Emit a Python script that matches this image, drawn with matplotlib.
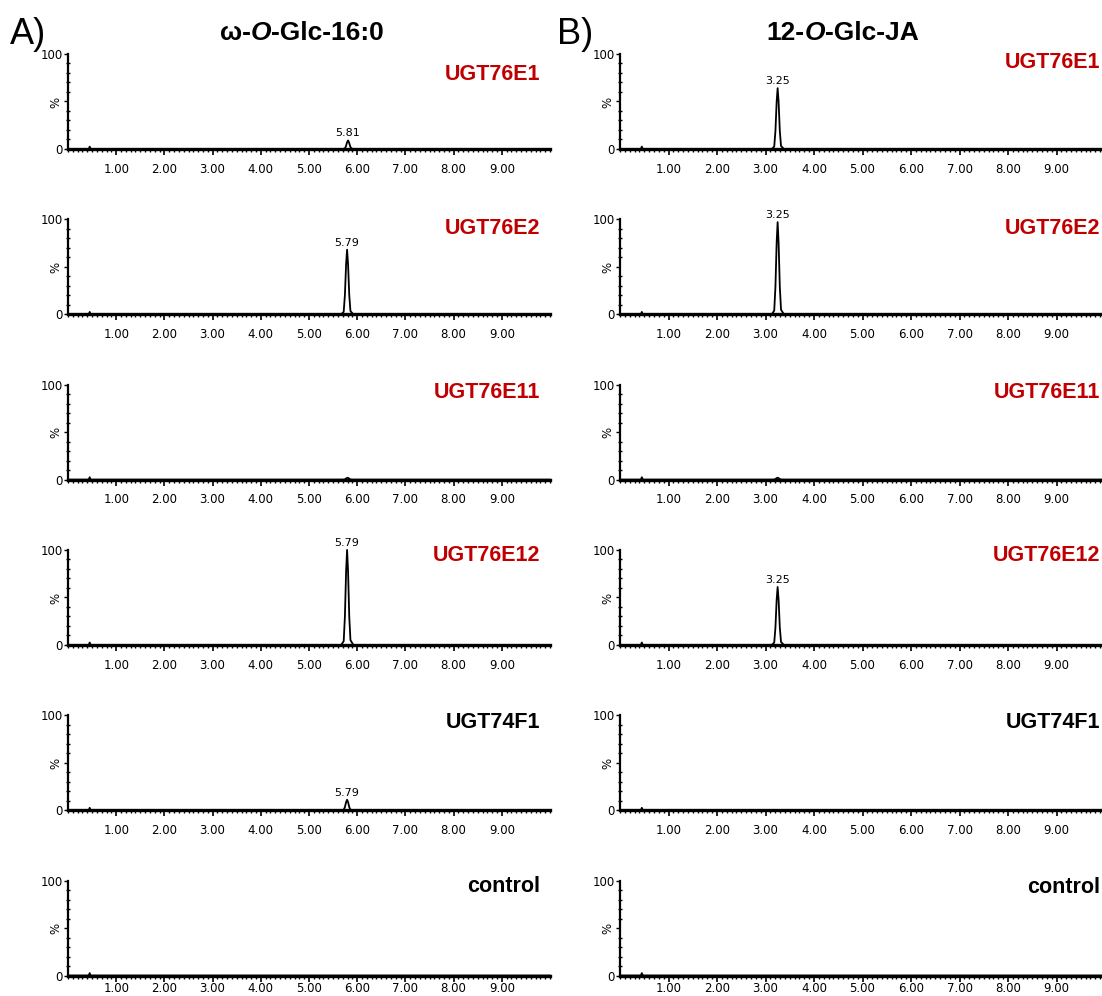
import matplotlib
matplotlib.use('Agg')
import matplotlib.pyplot as plt
from matplotlib.ticker import MultipleLocator

# samples, one row per enzyme
samples = ['UGT76E1', 'UGT76E2', 'UGT76E11', 'UGT76E12', 'UGT74F1', 'control']
sample_red = [True, True, True, True, False, False]

# w-O-Glc-16:0 traces: apex time (min) and relative intensity (%)
glc16_rt = [5.81, 5.79, 5.80, 5.79, 5.79, 5.80]
glc16_height = [9, 68, 2, 100, 11, 0]
glc16_label = ['5.81', '5.79', '', '5.79', '5.79', '']

# 12-O-Glc-JA traces
glcja_rt = [3.25, 3.25, 3.25, 3.25, 3.25, 3.25]
glcja_height = [64, 97, 2, 61, 0, 0]
glcja_label = ['3.25', '3.25', '', '3.25', '', '']

# small baseline spike near injection
spike_rt = 0.45
spike_height = 2.5

# peak profile shared by all traces (offset from apex, fraction of apex)
peak_offset = [-0.12, -0.07, -0.045, -0.02, 0.0, 0.02, 0.045, 0.07, 0.13]
peak_frac = [0.0, 0.04, 0.3, 0.78, 1.0, 0.78, 0.3, 0.05, 0.0]

run_start, run_end = 0.0, 10.0
x_ticks = [1, 2, 3, 4, 5, 6, 7, 8, 9]
x_tick_labels = ['1.00', '2.00', '3.00', '4.00', '5.00', '6.00', '7.00', '8.00', '9.00']
y_ticks = [0, 50, 100]
y_tick_labels = ['0', '%', '100']

RED = '#c00000'
W, H = 1102, 996
small_font = ['Liberation Sans Narrow', 'DejaVu Sans']


def trace(rt, height):
    xs = [run_start, spike_rt - 0.02, spike_rt, spike_rt + 0.02]
    ys = [0, 0, spike_height, 0]
    for off, fr in zip(peak_offset, peak_frac):
        xs.append(rt + off)
        ys.append(height * fr)
    xs.append(run_end)
    ys.append(0)
    return xs, ys


def chrom_axes(fig, left_px, width_px, top_px, label_pad):
    ax = fig.add_axes([left_px / W, 1 - (top_px + 95) / H, width_px / W, 95 / H])
    ax.set_xlim(run_start, run_end)
    ax.set_ylim(0, 100)
    for s in ['top', 'right']:
        ax.spines[s].set_visible(False)
    ax.spines['left'].set_linewidth(1.6)
    ax.spines['bottom'].set_linewidth(2.4)
    ax.set_xticks(x_ticks)
    ax.set_xticklabels(x_tick_labels, family=small_font, fontsize=8.5)
    ax.xaxis.set_minor_locator(MultipleLocator(0.1))
    ax.tick_params(axis='x', which='major', direction='out', length=4, width=1.2, pad=label_pad)
    ax.tick_params(axis='x', which='minor', direction='out', length=2.5, width=1.0)
    ax.set_yticks(y_ticks)
    ax.set_yticklabels(y_tick_labels, family=small_font, fontsize=8.5)
    ax.get_yticklabels()[1].set_rotation(90)
    ax.yaxis.set_minor_locator(MultipleLocator(10))
    ax.tick_params(axis='y', which='major', direction='out', length=3, width=1.0, pad=1)
    ax.tick_params(axis='y', which='minor', direction='inout', length=3, width=1.0)
    return ax


def draw_column(fig, left_px, width_px, rts, heights, labels, label_x, label_dy):
    n = len(samples)
    for i in range(n):
        top = 54 + 165.3 * i
        # last row sits at the bottom edge, keep its time labels inside
        ax = chrom_axes(fig, left_px, width_px, top, 0.5 if i == n - 1 else 6)
        xs, ys = trace(rts[i], heights[i])
        ax.plot(xs, ys, color='black', lw=1.3, clip_on=False)
        if labels[i]:
            ax.annotate(labels[i], (rts[i], heights[i]), xytext=(0, 1.5),
                        textcoords='offset points', ha='center', va='bottom',
                        family=small_font, fontsize=8, annotation_clip=False)
        ax.text(label_x, 1 - label_dy[i] / 95, samples[i], transform=ax.transAxes,
                ha='right', va='center', fontsize=15.5, fontweight='bold',
                family='Liberation Sans',
                color=RED if sample_red[i] else 'black')


def title_parts(fig, x, y, parts):
    # draw pieces side by side so the O can be italic
    total = []
    for txt, st in parts:
        t = fig.text(0, y, txt, fontsize=19, fontweight='bold', family='Liberation Sans',
                     style=st, va='baseline', ha='left')
        total.append(t)
    fig.canvas.draw()
    r = fig.canvas.get_renderer()
    widths = [tt.get_window_extent(r).width for tt in total]
    cur = x * W - sum(widths) / 2
    for tt, w in zip(total, widths):
        tt.set_position((cur / W, y))
        cur += w


fig = plt.figure(figsize=(W / 100, H / 100), dpi=100)

draw_column(fig, 68, 482, glc16_rt, glc16_height, glc16_label, 0.98,
            [21, 9, 8, 6, 7, 6])
draw_column(fig, 620, 485, glcja_rt, glcja_height, glcja_label, 0.99,
            [8, 9, 8, 6, 7, 7])

fig.text(10 / W, 1 - 44 / H, 'A)', fontsize=26, family='Liberation Sans', va='baseline')
fig.text(557 / W, 1 - 44 / H, 'B)', fontsize=26, family='Liberation Sans', va='baseline')

title_parts(fig, 302 / W, 1 - 40 / H, [('ω-', 'normal'), ('O', 'italic'), ('-Glc-16:0', 'normal')])
title_parts(fig, 843 / W, 1 - 40 / H, [('12-', 'normal'), ('O', 'italic'), ('-Glc-JA', 'normal')])

fig.savefig('out.png', dpi=100)
